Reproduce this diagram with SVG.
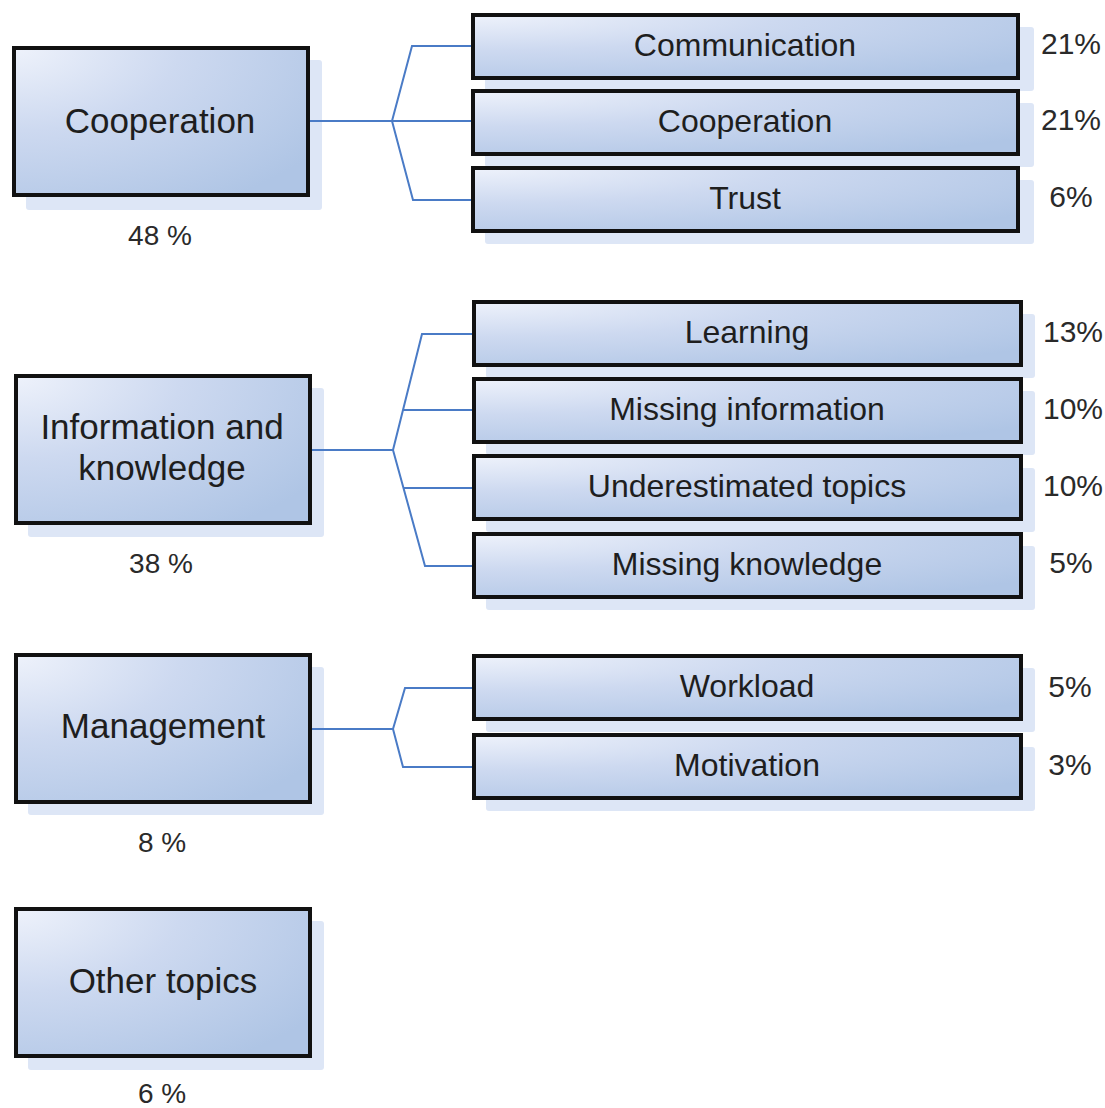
<svg xmlns="http://www.w3.org/2000/svg" width="1105" height="1108" viewBox="0 0 1105 1108">
<style>
.box{fill:url(#g);stroke:#111;stroke-width:4}
.sh{fill:#dde6f6}
.lbl{font-family:"Liberation Sans",Arial,sans-serif;font-size:32px;fill:#1e1e1e;text-anchor:middle}
.big{font-size:35px}
.pct{font-family:"Liberation Sans",Arial,sans-serif;font-size:28px;fill:#2a2a2a;text-anchor:middle}
.rp{font-family:"Liberation Sans",Arial,sans-serif;font-size:30px;fill:#2a2a2a;text-anchor:middle}
.con{fill:none;stroke:#4a7bc6;stroke-width:2}
</style>
<defs>
<radialGradient id="g" cx="0" cy="0" r="1.25" fx="0" fy="0">
<stop offset="0" stop-color="#eef2fb"/>
<stop offset="0.45" stop-color="#cdd9f0"/>
<stop offset="1" stop-color="#afc5e5"/>
</radialGradient>
</defs>
<rect width="1105" height="1108" fill="#fff"/>

<g id="n-cooperation">
<rect class="sh" x="26" y="60" width="296" height="150" rx="3"/>
<rect class="box" x="14" y="48" width="294" height="147"/>
<text class="lbl big" x="160" y="133">Cooperation</text>
<text class="pct" x="160" y="245">48 %</text>
</g>
<g id="n-information">
<rect class="sh" x="28" y="388" width="296" height="149" rx="3"/>
<rect class="box" x="16" y="376" width="294" height="147"/>
<text class="lbl big" x="162" y="439">Information and</text>
<text class="lbl big" x="162" y="480">knowledge</text>
<text class="pct" x="161" y="573">38 %</text>
</g>
<g id="n-management">
<rect class="sh" x="28" y="667" width="296" height="148" rx="3"/>
<rect class="box" x="16" y="655" width="294" height="147"/>
<text class="lbl big" x="163" y="738">Management</text>
<text class="pct" x="162" y="852">8 %</text>
</g>
<g id="n-other">
<rect class="sh" x="28" y="921" width="296" height="149" rx="3"/>
<rect class="box" x="16" y="909" width="294" height="147"/>
<text class="lbl big" x="163" y="993">Other topics</text>
<text class="pct" x="162" y="1103">6 %</text>
</g>

<g id="n-communication">
<rect class="sh" x="485" y="27" width="549" height="64" rx="3"/>
<rect class="box" x="473" y="15" width="545" height="63"/>
<text class="lbl" x="745" y="56">Communication</text>
<text class="rp" x="1071" y="54">21%</text>
</g>
<g id="n-cooperation2">
<rect class="sh" x="485" y="103" width="549" height="64" rx="3"/>
<rect class="box" x="473" y="91" width="545" height="63"/>
<text class="lbl" x="745" y="132">Cooperation</text>
<text class="rp" x="1071" y="130">21%</text>
</g>
<g id="n-trust">
<rect class="sh" x="485" y="180" width="549" height="64" rx="3"/>
<rect class="box" x="473" y="168" width="545" height="63"/>
<text class="lbl" x="745" y="209">Trust</text>
<text class="rp" x="1071" y="207">6%</text>
</g>

<g id="n-learning">
<rect class="sh" x="486" y="314" width="549" height="64" rx="3"/>
<rect class="box" x="474" y="302" width="547" height="63"/>
<text class="lbl" x="747" y="343">Learning</text>
<text class="rp" x="1073" y="342">13%</text>
</g>
<g id="n-missing-info">
<rect class="sh" x="486" y="391" width="549" height="64" rx="3"/>
<rect class="box" x="474" y="379" width="547" height="63"/>
<text class="lbl" x="747" y="420">Missing information</text>
<text class="rp" x="1073" y="419">10%</text>
</g>
<g id="n-underestimated">
<rect class="sh" x="486" y="468" width="549" height="64" rx="3"/>
<rect class="box" x="474" y="456" width="547" height="63"/>
<text class="lbl" x="747" y="497">Underestimated topics</text>
<text class="rp" x="1073" y="496">10%</text>
</g>
<g id="n-missing-knowledge">
<rect class="sh" x="486" y="546" width="549" height="64" rx="3"/>
<rect class="box" x="474" y="534" width="547" height="63"/>
<text class="lbl" x="747" y="575">Missing knowledge</text>
<text class="rp" x="1071" y="573">5%</text>
</g>

<g id="n-workload">
<rect class="sh" x="486" y="668" width="549" height="64" rx="3"/>
<rect class="box" x="474" y="656" width="547" height="63"/>
<text class="lbl" x="747" y="697">Workload</text>
<text class="rp" x="1070" y="697">5%</text>
</g>
<g id="n-motivation">
<rect class="sh" x="486" y="747" width="549" height="64" rx="3"/>
<rect class="box" x="474" y="735" width="547" height="63"/>
<text class="lbl" x="747" y="776">Motivation</text>
<text class="rp" x="1070" y="775">3%</text>
</g>

<g id="connectors">
<path class="con" d="M310,121 H392 M471,46 H412 L392,121 L413,200 H471 M392,121 H471"/>
<path class="con" d="M312,450 H393 M472,334 H422 L393,450 L425,566 H472 M403,410 H472 M403,488 H472"/>
<path class="con" d="M312,729 H393 M472,688 H405 L393,729 L403,767 H472"/>
</g>
</svg>
